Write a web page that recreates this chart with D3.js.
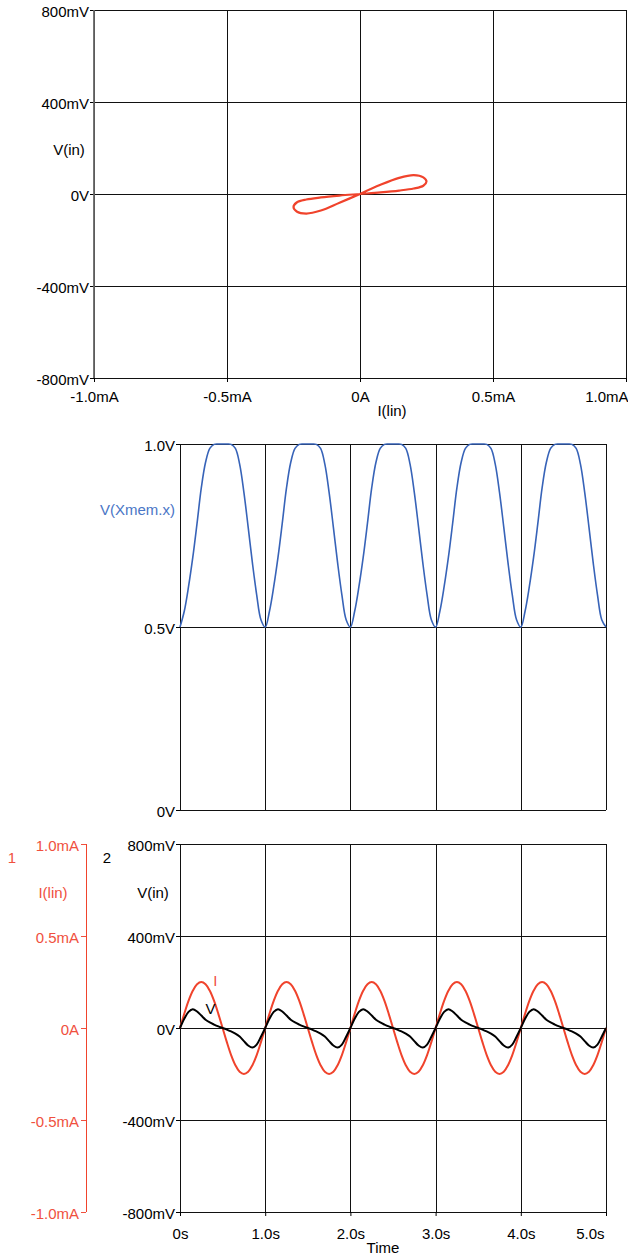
<!DOCTYPE html>
<html>
<head>
<meta charset="utf-8">
<script src="https://cdn.jsdelivr.net/npm/d3@7"></script>
<style>
  body { margin: 0; background: #fff; }
  svg { display: block; font-family: "Liberation Sans", Arial, sans-serif; font-size: 15px; }
</style>
</head>
<body>
<svg id="chart" width="628" height="1256"></svg>
<script>

// sample times (s)
var tSec = [
  0.00,0.05,0.10,0.15,0.20,0.25,0.30,0.35,0.40,0.45,0.50,0.55,0.60,0.65,0.70,0.75,0.80,0.85,0.90,0.95,
  1.00,1.05,1.10,1.15,1.20,1.25,1.30,1.35,1.40,1.45,1.50,1.55,1.60,1.65,1.70,1.75,1.80,1.85,1.90,1.95,
  2.00,2.05,2.10,2.15,2.20,2.25,2.30,2.35,2.40,2.45,2.50,2.55,2.60,2.65,2.70,2.75,2.80,2.85,2.90,2.95,
  3.00,3.05,3.10,3.15,3.20,3.25,3.30,3.35,3.40,3.45,3.50,3.55,3.60,3.65,3.70,3.75,3.80,3.85,3.90,3.95,
  4.00,4.05,4.10,4.15,4.20,4.25,4.30,4.35,4.40,4.45,4.50,4.55,4.60,4.65,4.70,4.75,4.80,4.85,4.90,4.95,
  5.00
];

// I(lin) in mA
var currentMA = [
  0,0.077,0.147,0.202,0.238,0.25,0.238,0.202,0.147,0.077,0,-0.077,-0.147,-0.202,-0.238,-0.25,-0.238,-0.202,-0.147,-0.077,
  0,0.077,0.147,0.202,0.238,0.25,0.238,0.202,0.147,0.077,0,-0.077,-0.147,-0.202,-0.238,-0.25,-0.238,-0.202,-0.147,-0.077,
  0,0.077,0.147,0.202,0.238,0.25,0.238,0.202,0.147,0.077,0,-0.077,-0.147,-0.202,-0.238,-0.25,-0.238,-0.202,-0.147,-0.077,
  0,0.077,0.147,0.202,0.238,0.25,0.238,0.202,0.147,0.077,0,-0.077,-0.147,-0.202,-0.238,-0.25,-0.238,-0.202,-0.147,-0.077,
  0,0.077,0.147,0.202,0.238,0.25,0.238,0.202,0.147,0.077,0,-0.077,-0.147,-0.202,-0.238,-0.25,-0.238,-0.202,-0.147,-0.077,
  0
];

// V(in) in mV
var voltageMV = [
  0,40,70,82,72,54,36,24,15,7,0,-7,-15,-24,-37,-57,-76,-85,-72,-38,
  0,40,70,82,72,54,36,24,15,7,0,-7,-15,-24,-37,-57,-76,-85,-72,-38,
  0,40,70,82,72,54,36,24,15,7,0,-7,-15,-24,-37,-57,-76,-85,-72,-38,
  0,40,70,82,72,54,36,24,15,7,0,-7,-15,-24,-37,-57,-76,-85,-72,-38,
  0,40,70,82,72,54,36,24,15,7,0,-7,-15,-24,-37,-57,-76,-85,-72,-38,
  0
];

// V(Xmem.x) in V
var stateV = [
  0.5,0.543,0.61,0.69,0.783,0.88,0.95,0.988,0.999,1,1,1,0.999,0.988,0.945,0.868,0.773,0.675,0.588,0.52,
  0.5,0.543,0.61,0.69,0.783,0.88,0.95,0.988,0.999,1,1,1,0.999,0.988,0.945,0.868,0.773,0.675,0.588,0.52,
  0.5,0.543,0.61,0.69,0.783,0.88,0.95,0.988,0.999,1,1,1,0.999,0.988,0.945,0.868,0.773,0.675,0.588,0.52,
  0.5,0.543,0.61,0.69,0.783,0.88,0.95,0.988,0.999,1,1,1,0.999,0.988,0.945,0.868,0.773,0.675,0.588,0.52,
  0.5,0.543,0.61,0.69,0.783,0.88,0.95,0.988,0.999,1,1,1,0.999,0.988,0.945,0.868,0.773,0.675,0.588,0.52,
  0.5
];

// tick values
var mVTicks = [-800, -400, 0, 400, 800];
var mATicks = [-1.0, -0.5, 0, 0.5, 1.0];
var stateTicks = [0, 0.5, 1.0];
var timeTicks = [0, 1, 2, 3, 4, 5];

// curve tags in the lower plot
var tagNames = ["I", "V"];
var tagTimes = [0.39, 0.30];
var tagValues = [0.255, 82];

var RED = "#f0432c", RED_TXT = "#f0503e", BLUE = "#3763b8", BLUE_TXT = "#4a76c6";

var svg = d3.select("#chart");

var fmtMV = function(v) { return v == 0 ? "0V" : v + "mV"; };
var fmtMA = function(v) { return v == 0 ? "0A" : v.toFixed(1) + "mA"; };
var fmtV = function(v) { return v == 0 ? "0V" : v.toFixed(1) + "V"; };
var fmtS = function(v) { return v == 0 ? "0s" : v.toFixed(1) + "s"; };

function styleAxis(g, color) {
  g.selectAll("path.domain").remove();
  g.selectAll("line").attr("stroke", color || "#000");
  g.selectAll("text").attr("fill", color || "#000").style("font-size", "15px")
    .style("font-family", '"Liberation Sans", Arial, sans-serif');
}

function gridLines(x, y, xVals, yVals) {
  var g = svg.append("g").attr("stroke", "#111").attr("stroke-width", 1).attr("shape-rendering", "crispEdges");
  g.selectAll(".h").data(yVals).enter().append("line")
    .attr("x1", x.range()[0]).attr("x2", x.range()[1])
    .attr("y1", function(d) { return Math.round(y(d)) + 0.5; })
    .attr("y2", function(d) { return Math.round(y(d)) + 0.5; });
  g.selectAll(".v").data(xVals).enter().append("line")
    .attr("y1", y.range()[0]).attr("y2", y.range()[1])
    .attr("x1", function(d) { return Math.round(x(d)) + 0.5; })
    .attr("x2", function(d) { return Math.round(x(d)) + 0.5; });
}

function label(x, y, txt, color, anchor) {
  svg.append("text").attr("x", x).attr("y", y).text(txt)
    .attr("fill", color || "#000").attr("text-anchor", anchor || "middle");
}

// ---------- panel 1 : V(in) vs I(lin) ----------
var xI1 = d3.scaleLinear().domain([-1, 1]).range([94, 626]);
var yV1 = d3.scaleLinear().domain([-800, 800]).range([378, 10]);

gridLines(xI1, yV1, mATicks, mVTicks);

svg.append("g").attr("transform", "translate(94,0)")
  .call(d3.axisLeft(yV1).tickValues(mVTicks).tickFormat(fmtMV).tickSize(4).tickPadding(1))
  .call(styleAxis)
  .selectAll("text").attr("dy", "0.45em");

var ax1 = svg.append("g").attr("transform", "translate(0,378)")
  .call(d3.axisBottom(xI1).tickValues(mATicks).tickFormat(fmtMA).tickSize(4).tickPadding(9))
  .call(styleAxis);
ax1.selectAll("text").filter(function(d) { return d == 1; })
  .attr("text-anchor", "end").attr("dx", "2");

svg.append("line").attr("x1", 94).attr("x2", 94).attr("y1", 10).attr("y2", 378)
  .attr("stroke", "#666").attr("stroke-width", 1.8);

var loopPts = currentMA.map(function(d, i) { return [d, voltageMV[i]]; });
var loopLine = d3.line()
  .x(function(d) { return xI1(d[0]); })
  .y(function(d) { return yV1(d[1]); })
  .curve(d3.curveCatmullRom.alpha(0.5));
svg.append("path").datum(loopPts.slice(0, 21)).attr("d", loopLine)
  .attr("fill", "none").attr("stroke", RED).attr("stroke-width", 2.2);

label(69, 155, "V(in)");
label(392, 416, "I(lin)");

// ---------- panel 2 : V(Xmem.x) vs time ----------
var xT = d3.scaleLinear().domain([0, 5]).range([180, 606]);
var yS = d3.scaleLinear().domain([0, 1]).range([810, 444]);

gridLines(xT, yS, timeTicks, stateTicks);

svg.append("g").attr("transform", "translate(180,0)")
  .call(d3.axisLeft(yS).tickValues(stateTicks).tickFormat(fmtV).tickSize(4).tickPadding(1))
  .call(styleAxis)
  .selectAll("text").attr("dy", "0.45em");

var timeLine = function(yScale, vals) {
  return d3.line()
    .x(function(d, i) { return xT(tSec[i]); })
    .y(function(d) { return yScale(d); })
    .curve(d3.curveCatmullRom.alpha(0.5))(vals);
};

svg.append("path").attr("d", timeLine(yS, stateV))
  .attr("fill", "none").attr("stroke", BLUE).attr("stroke-width", 1.6);

label(175, 515, "V(Xmem.x)", BLUE_TXT, "end");

// ---------- panel 3 : I(lin) and V(in) vs time ----------
var yV3 = d3.scaleLinear().domain([-800, 800]).range([1212, 844]);
var yI3 = d3.scaleLinear().domain([-1, 1]).range([1212, 844]);

gridLines(xT, yV3, timeTicks, mVTicks);

svg.append("g").attr("transform", "translate(180,0)")
  .call(d3.axisLeft(yV3).tickValues(mVTicks).tickFormat(fmtMV).tickSize(4).tickPadding(1))
  .call(styleAxis)
  .selectAll("text").attr("dy", "0.45em");

var redAxis = svg.append("g").attr("transform", "translate(86,0)")
  .call(d3.axisLeft(yI3).tickValues(mATicks).tickFormat(fmtMA).tickSize(5).tickPadding(2))
  .call(styleAxis, RED_TXT);
redAxis.selectAll("text").attr("dy", "0.45em");
svg.append("line").attr("x1", 86.5).attr("x2", 86.5).attr("y1", 844).attr("y2", 1212)
  .attr("stroke", RED).attr("stroke-width", 1);

var ax3 = svg.append("g").attr("transform", "translate(0,1212)")
  .call(d3.axisBottom(xT).tickValues(timeTicks).tickFormat(fmtS).tickSize(4).tickPadding(12))
  .call(styleAxis);
ax3.selectAll("text").filter(function(d) { return d == 5; })
  .attr("text-anchor", "end").attr("dx", "-2");

svg.append("path").attr("d", timeLine(yI3, currentMA))
  .attr("fill", "none").attr("stroke", RED).attr("stroke-width", 2);
svg.append("path").attr("d", timeLine(yV3, voltageMV))
  .attr("fill", "none").attr("stroke", "#000").attr("stroke-width", 2);

tagNames.forEach(function(n, i) {
  var yy = n == "I" ? yI3(tagValues[i]) : yV3(tagValues[i]);
  label(xT(tagTimes[i]), yy + 5, n, n == "I" ? RED_TXT : "#000", "start");
});

label(12, 863, "1", RED_TXT);
label(107, 863, "2");
label(53, 898, "I(lin)", RED_TXT);
label(153, 898, "V(in)");
label(383, 1253, "Time");

</script>
</body>
</html>
